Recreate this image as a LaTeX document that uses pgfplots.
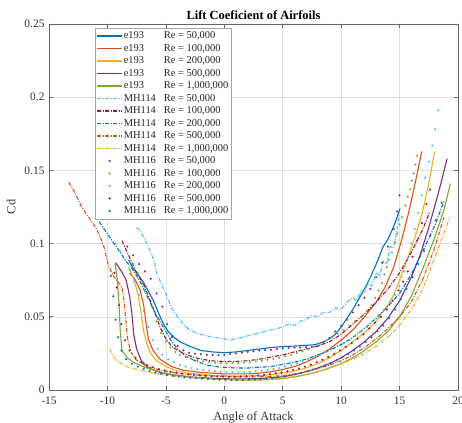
\documentclass[border=0pt]{standalone}
\usepackage{pgfplots}
\pgfplotsset{compat=1.18}
\usepackage{fontspec}
\setmainfont{Liberation Serif}
\definecolor{mblue}{rgb}{0,0.447,0.741}
\definecolor{morange}{rgb}{0.850,0.325,0.098}
\definecolor{myellow}{rgb}{0.929,0.694,0.125}
\definecolor{mpurple}{rgb}{0.494,0.184,0.556}
\definecolor{mgreen}{rgb}{0.466,0.674,0.188}
\definecolor{mlblue}{rgb}{0.301,0.745,0.933}
\definecolor{mred}{rgb}{0.635,0.078,0.184}
\pgfplotsset{
  lineleg/.style={legend image code/.code={\draw[##1, line width=1.3bp] (0bp,0bp) -- (25bp,0bp);}},
  dotleg/.style={legend image code/.code={\fill[##1] (12.5bp,0bp) circle (0.9bp);}},
  sl/.style={color=#1, line width=1.1bp, solid, lineleg},
  dl/.style={color=#1, line width=1.1bp, dash pattern=on 4bp off 1.5bp on 1bp off 1.5bp, lineleg},
  dt/.style={color=#1, only marks, mark=*, mark size=0.85bp, mark options={draw=none, fill=#1}, dotleg},
}
\newcommand{\legtxt}[2]{\makebox[40bp][l]{#1}Re = #2}
\begin{document}
\begin{tikzpicture}
\path[use as bounding box] (-49bp,-33bp) rectangle (413bp,390bp);
\begin{axis}[
  width=409bp, height=366bp, scale only axis,
  xmin=-15, xmax=20, ymin=0, ymax=0.25,
  xtick={-15,-10,-5,0,5,10,15,20}, xticklabels={-15,-10,-5,0,5,10,15,20},
  ytick={0,0.05,0.1,0.15,0.2,0.25}, yticklabels={0,0.05,0.1,0.15,0.2,0.25},
  tick align=inside, tick pos=both, major tick length=4bp,
  grid=major, grid style={black!12, line width=0.5bp},
  axis line style={black!60, line width=0.6bp},
  tick style={black!60, line width=0.6bp},
  ticklabel style={font=\fontsize{11.5}{14}\selectfont, text=black!80},
  xticklabel style={yshift=-3bp},
  yticklabel style={xshift=-1bp},
  xlabel={Angle of Attack}, ylabel={Cd},
  xlabel style={yshift=-0.5bp},
  ylabel style={yshift=2bp},
  label style={font=\fontsize{12.5}{14}\selectfont, text=black!80},
  title={Lift Coeficient of Airfoils},
  title style={font=\bfseries\fontsize{12.5}{14}\selectfont, yshift=-5bp},
  legend cell align=left,
  legend style={at={(0.112,0.989)}, anchor=north west, draw=black!35, fill=white,
    inner sep=1.5bp, font=\fontsize{10.5}{12}\selectfont, text=black!85,
    nodes={inner sep=1bp, text height=8bp, text depth=2.5bp}, row sep=0pt},
]
% e193 50k
\addplot[sl=mblue] coordinates {(-8.2,0.089)(-7.8,0.083)(-7.3,0.078)(-6.8,0.072)(-6.4,0.066)(-6,0.060)(-5.6,0.052)(-5.2,0.045)(-4.8,0.040)(-4.3,0.036)(-3.8,0.033)(-3,0.030)(-2,0.027)(-1,0.026)(0,0.0255)(1,0.026)(2,0.027)(3,0.028)(4,0.029)(5,0.0297)(6,0.030)(7,0.0305)(7.8,0.031)(8.5,0.033)(9,0.035)(9.5,0.038)(10,0.043)(10.5,0.049)(11,0.055)(11.5,0.062)(12,0.069)(12.5,0.077)(13,0.086)(13.6,0.098)(14,0.103)(14.35,0.109)(14.7,0.116)(15.04,0.124)};
\addlegendentry{\legtxt{e193}{50,000}}
% e193 100k
\addplot[sl=morange] coordinates {(-8.1,0.080)(-7.6,0.075)(-7.2,0.068)(-6.9,0.058)(-6.7,0.046)(-6.5,0.035)(-6.1,0.027)(-5.5,0.021)(-4.5,0.016)(-3.5,0.0135)(-2,0.012)(0,0.011)(2,0.011)(3,0.0115)(4,0.0125)(5,0.014)(6,0.016)(7,0.019)(8,0.023)(9,0.028)(10,0.034)(11,0.041)(12,0.050)(13,0.060)(13.75,0.070)(14.5,0.084)(15.2,0.103)(15.8,0.122)(16.3,0.140)(16.9,0.163)};
\addlegendentry{\legtxt{e193}{100,000}}
% e193 200k
\addplot[sl=myellow] coordinates {(-8.2,0.084)(-7.8,0.077)(-7.4,0.066)(-7.1,0.052)(-6.9,0.040)(-6.6,0.031)(-6.3,0.025)(-5.8,0.020)(-5,0.016)(-4,0.013)(-3,0.0115)(-1,0.010)(1,0.0095)(3,0.0098)(4,0.0105)(5,0.0115)(6,0.013)(7,0.015)(8,0.018)(9,0.022)(10,0.027)(11,0.033)(12,0.039)(13,0.047)(14,0.058)(14.5,0.065)(15,0.075)(15.5,0.086)(16,0.097)(16.5,0.109)(17,0.123)(17.5,0.141)(18,0.163)};
\addlegendentry{\legtxt{e193}{200,000}}
% e193 500k
\addplot[sl=mpurple] coordinates {(-9.3,0.087)(-8.8,0.081)(-8.4,0.075)(-8.1,0.064)(-7.9,0.052)(-7.75,0.038)(-7.5,0.028)(-7.1,0.020)(-6.5,0.015)(-5.5,0.012)(-4.5,0.0105)(-3,0.009)(-1,0.008)(1,0.0075)(3,0.0078)(5,0.009)(6,0.0105)(7,0.0125)(8,0.015)(9,0.018)(10,0.022)(11,0.027)(12,0.033)(13,0.040)(14,0.049)(15,0.061)(16,0.077)(16.75,0.092)(17.5,0.111)(18.2,0.131)(18.6,0.143)(19.06,0.158)};
\addlegendentry{\legtxt{e193}{500,000}}
% e193 1M
\addplot[sl=mgreen] coordinates {(-9.35,0.087)(-9.15,0.075)(-9.0,0.058)(-8.9,0.040)(-8.75,0.027)(-8.3,0.022)(-7.8,0.019)(-6.8,0.0155)(-5.8,0.013)(-4.5,0.0105)(-3,0.0088)(-1,0.0075)(1,0.0068)(3,0.0068)(5,0.0078)(6,0.009)(7,0.0105)(8,0.0125)(9,0.015)(10,0.018)(11,0.022)(12,0.027)(13,0.033)(14,0.040)(15,0.050)(16,0.064)(17,0.083)(18,0.104)(18.8,0.123)(19.35,0.141)};
\addlegendentry{\legtxt{e193}{1,000,000}}
% MH114 50k
\addplot[dl=mlblue] coordinates {(-7.5,0.111)(-7.2,0.109)(-6.8,0.103)(-6.4,0.096)(-6,0.088)(-5.8,0.080)(-5.3,0.071)(-4.9,0.064)(-4.5,0.056)(-4,0.050)(-3.5,0.045)(-3,0.041)(-2,0.038)(-1,0.036)(0,0.035)(0.5,0.034)(1,0.035)(2,0.037)(2.5,0.038)(3,0.039)(4,0.041)(4.5,0.042)(5,0.043)(5.5,0.045)(6,0.044)(6.5,0.047)(7,0.048)(7.5,0.051)(8,0.050)(8.5,0.053)(9,0.053)(9.5,0.056)(10,0.055)(10.5,0.060)(11,0.063)(11.3,0.061)(11.7,0.068)(12,0.067)(12.3,0.073)(12.6,0.071)(13,0.080)(13.3,0.078)(13.6,0.088)(13.9,0.086)(14.2,0.098)(14.5,0.097)(14.8,0.110)(14.95,0.120)};
\addlegendentry{\legtxt{MH114}{50,000}}
% MH114 100k
\addplot[dl=mred] coordinates {(-8.75,0.102)(-8.3,0.094)(-7.9,0.087)(-7.5,0.080)(-6.9,0.072)(-6.35,0.0615)(-5.9,0.052)(-5.5,0.043)(-5,0.035)(-4.4,0.029)(-3.5,0.025)(-2.5,0.022)(-1.2,0.020)(0,0.0195)(1,0.0195)(2,0.020)(3,0.021)(4,0.0225)(5,0.024)(6,0.026)(7,0.028)(8,0.030)(9,0.033)(10,0.038)(11,0.045)(12,0.052)(13,0.060)(14,0.069)(15,0.080)(16,0.094)(17,0.110)(17.6,0.122)};
\addlegendentry{\legtxt{MH114}{100,000}}
% MH114 200k
\addplot[dl=mblue] coordinates {(-10.7,0.115)(-10.2,0.109)(-9.6,0.102)(-9,0.095)(-8.4,0.088)(-7.8,0.082)(-7.2,0.074)(-6.6,0.064)(-6,0.054)(-5.5,0.047)(-5,0.040)(-4.5,0.033)(-4,0.028)(-3.3,0.023)(-2.5,0.020)(-1.5,0.017)(-0.4,0.0157)(1,0.015)(2,0.015)(3,0.0155)(4,0.016)(5,0.0175)(6,0.019)(7,0.021)(8,0.024)(9,0.027)(10,0.031)(11,0.036)(12,0.042)(13,0.049)(14,0.057)(15,0.066)(16,0.079)(17,0.095)(18,0.112)(18.8,0.129)};
\addlegendentry{\legtxt{MH114}{200,000}}
% MH114 500k
\addplot[dl=morange] coordinates {(-13.3,0.142)(-12.8,0.135)(-12.2,0.125)(-11.6,0.118)(-11,0.111)(-10.6,0.104)(-10.3,0.098)(-10.1,0.091)(-9.9,0.085)(-9.5,0.078)(-9.1,0.074)(-8.75,0.070)(-8.6,0.062)(-8.45,0.050)(-8.3,0.036)(-8.0,0.026)(-7.6,0.021)(-6.6,0.016)(-5.5,0.0135)(-4.4,0.012)(-3,0.0105)(-1,0.0095)(1,0.009)(3,0.009)(5,0.0098)(6,0.011)(7,0.0125)(8,0.0145)(9,0.017)(10,0.020)(11,0.024)(12,0.029)(13,0.035)(14,0.042)(15,0.050)(16,0.060)(17,0.076)(18,0.097)(18.8,0.118)};
\addlegendentry{\legtxt{MH114}{500,000}}
% MH114 1M
\addplot[dl=myellow] coordinates {(-9.8,0.028)(-9.5,0.023)(-9,0.019)(-8.5,0.0165)(-8,0.015)(-7.2,0.0135)(-6,0.0115)(-4.4,0.0095)(-3,0.0085)(-1,0.0075)(1,0.007)(3,0.007)(4,0.0073)(5,0.008)(6,0.009)(7,0.0105)(8,0.0125)(9,0.015)(10,0.018)(11,0.021)(12,0.025)(13,0.030)(14,0.036)(15,0.044)(16,0.055)(16.75,0.065)(17.3,0.075)(17.9,0.088)(18.6,0.103)(19.3,0.118)};
\addlegendentry{\legtxt{MH114}{1,000,000}}
% MH116 50k
\addplot[dt=mpurple] coordinates {(-8.3,0.098)(-7.8,0.092)(-7.3,0.086)(-6.8,0.081)(-6.3,0.076)(-5.8,0.066)(-5.3,0.057)(-4.9,0.045)(-4.5,0.036)(-4.0,0.030)(-3.5,0.027)(-3.0,0.0255)(-2.5,0.0248)(-2.0,0.0245)(-1.5,0.024)(-1.0,0.024)(-0.5,0.0238)(0.0,0.024)(0.5,0.0245)(1.0,0.025)(1.5,0.0255)(2.0,0.026)(2.5,0.0265)(3.0,0.027)(3.5,0.0272)(4.0,0.0275)(4.5,0.028)(5.0,0.0285)(5.5,0.0287)(6.0,0.029)(6.5,0.029)(7.0,0.0292)(7.5,0.0293)(8.0,0.030)(8.5,0.032)(9.0,0.0355)(9.5,0.040)(10.0,0.044)(10.5,0.048)(11.0,0.053)(11.5,0.058)(12.0,0.063)(12.5,0.069)(13.0,0.077)(13.5,0.087)(14.0,0.098)(14.5,0.110)(14.8,0.122)(15.0,0.133)};
\addlegendentry{\legtxt{MH116}{50,000}}
% MH116 100k
\addplot[dt=mgreen] coordinates {(-7.8,0.086)(-7.4,0.080)(-7.0,0.073)(-6.6,0.066)(-6.2,0.057)(-5.8,0.047)(-5.4,0.039)(-5.0,0.033)(-4.6,0.029)(-4.2,0.026)(-3.8,0.024)(-3.3,0.0225)(-2.8,0.0213)(-2.3,0.0203)(-1.8,0.0196)(-1.3,0.019)(-0.8,0.0186)(-0.3,0.0183)(0.2,0.0182)(0.7,0.0182)(1.2,0.0184)(1.7,0.0187)(2.2,0.019)(2.7,0.0195)(3.2,0.020)(3.7,0.0206)(4.2,0.0213)(4.7,0.022)(5.2,0.023)(5.7,0.024)(6.2,0.0252)(6.7,0.0265)(7.2,0.028)(7.7,0.0297)(8.2,0.0316)(8.7,0.0337)(9.2,0.036)(9.7,0.0385)(10.2,0.041)(10.7,0.044)(11.2,0.047)(11.7,0.050)(12.2,0.054)(12.6,0.058)(12.9,0.063)(13.2,0.068)(13.5,0.073)(13.7,0.079)(13.9,0.084)(14.1,0.089)(14.35,0.094)(14.6,0.101)(14.8,0.107)(15.0,0.113)(15.2,0.118)(15.5,0.126)(15.7,0.132)(15.9,0.137)(16.05,0.143)(16.2,0.148)(16.35,0.154)(16.5,0.160)};
\addlegendentry{\legtxt{MH116}{100,000}}
% MH116 200k
\addplot[dt=mlblue] coordinates {(-9.3,0.100)(-8.9,0.095)(-8.5,0.089)(-8.1,0.082)(-7.7,0.074)(-7.3,0.065)(-6.9,0.054)(-6.5,0.043)(-6.1,0.034)(-5.7,0.028)(-5.3,0.024)(-4.8,0.021)(-4.3,0.019)(-3.8,0.017)(-3.3,0.016)(-2.8,0.015)(-2.3,0.0143)(-1.8,0.0137)(-1.3,0.0132)(-0.8,0.0128)(-0.3,0.0125)(0.2,0.0123)(0.7,0.0122)(1.2,0.0122)(1.7,0.0123)(2.2,0.0125)(2.7,0.0128)(3.2,0.0132)(3.7,0.0137)(4.2,0.0143)(4.7,0.015)(5.2,0.016)(5.7,0.017)(6.2,0.0182)(6.7,0.0195)(7.2,0.021)(7.7,0.0225)(8.2,0.024)(8.7,0.026)(9.2,0.028)(9.7,0.030)(10.2,0.032)(10.7,0.034)(11.2,0.037)(11.7,0.040)(12.2,0.043)(12.7,0.047)(13.2,0.051)(13.7,0.055)(14.2,0.060)(14.6,0.065)(15.0,0.071)(15.4,0.081)(15.7,0.090)(16.0,0.100)(16.3,0.110)(16.6,0.121)(16.9,0.133)(17.2,0.145)(17.5,0.156)(17.8,0.167)(18.05,0.178)(18.3,0.191)};
\addlegendentry{\legtxt{MH116}{200,000}}
% MH116 500k
\addplot[dt=mred] coordinates {(-9.4,0.080)(-9.2,0.070)(-9.0,0.058)(-8.8,0.045)(-8.5,0.034)(-8.1,0.027)(-7.6,0.022)(-7.1,0.019)(-6.6,0.017)(-6.1,0.0155)(-5.6,0.0143)(-5.1,0.0133)(-4.6,0.0125)(-4.1,0.0118)(-3.6,0.0112)(-3.1,0.0107)(-2.6,0.0103)(-2.1,0.010)(-1.6,0.0097)(-1.1,0.0095)(-0.6,0.0093)(-0.1,0.0092)(0.4,0.0091)(0.9,0.0091)(1.4,0.0092)(1.9,0.0094)(2.4,0.0096)(2.9,0.0099)(3.4,0.0103)(3.9,0.0108)(4.4,0.0114)(4.9,0.012)(5.4,0.0128)(5.9,0.0137)(6.4,0.0147)(6.9,0.016)(7.4,0.0173)(7.9,0.019)(8.4,0.0207)(8.9,0.0226)(9.4,0.0247)(9.9,0.027)(10.4,0.0295)(10.9,0.032)(11.4,0.035)(11.9,0.038)(12.4,0.042)(12.9,0.046)(13.4,0.050)(13.9,0.055)(14.4,0.061)(14.9,0.068)(15.3,0.074)(15.7,0.081)(16.1,0.091)(16.5,0.102)(16.9,0.114)(17.3,0.127)(17.6,0.137)};
\addlegendentry{\legtxt{MH116}{500,000}}
% MH116 1M
\addplot[dt=mblue] coordinates {(-9.7,0.078)(-9.5,0.064)(-9.3,0.048)(-9.1,0.036)(-8.8,0.027)(-8.4,0.021)(-7.9,0.018)(-7.4,0.016)(-6.9,0.0145)(-6.4,0.013)(-5.9,0.012)(-5.4,0.011)(-4.9,0.0103)(-4.4,0.0097)(-3.9,0.0092)(-3.4,0.0087)(-2.9,0.0083)(-2.4,0.008)(-1.9,0.0077)(-1.4,0.0075)(-0.9,0.0073)(-0.4,0.0071)(0.1,0.007)(0.6,0.0069)(1.1,0.0069)(1.6,0.007)(2.1,0.0071)(2.6,0.0073)(3.1,0.0075)(3.6,0.0078)(4.1,0.0082)(4.6,0.0087)(5.1,0.0093)(5.6,0.01)(6.1,0.0108)(6.6,0.0117)(7.1,0.0128)(7.6,0.014)(8.1,0.0153)(8.6,0.0168)(9.1,0.0185)(9.6,0.0203)(10.1,0.0223)(10.6,0.0245)(11.1,0.027)(11.6,0.0297)(12.1,0.0327)(12.6,0.036)(13.1,0.040)(13.6,0.044)(14.1,0.049)(14.6,0.055)(15.1,0.062)(15.6,0.069)(16.1,0.077)(16.6,0.086)(17.1,0.095)(17.6,0.105)(18.1,0.116)(18.6,0.128)};
\addlegendentry{\legtxt{MH116}{1,000,000}}
\end{axis}
\end{tikzpicture}
\end{document}
